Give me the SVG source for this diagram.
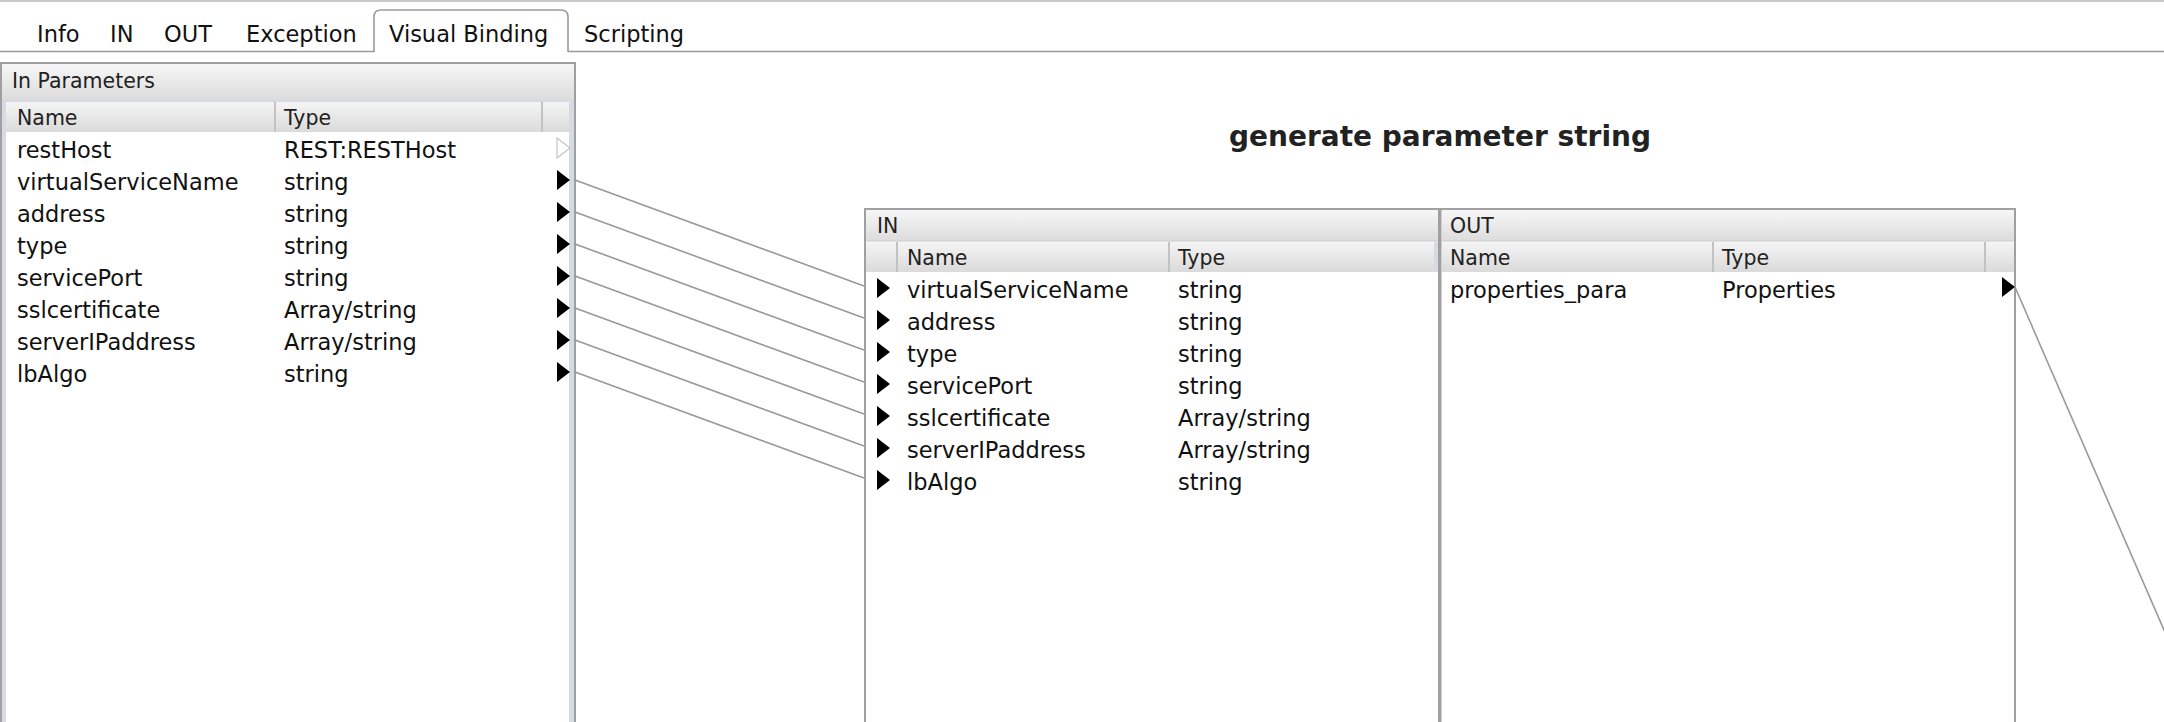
<svg xmlns="http://www.w3.org/2000/svg" width="2164" height="722" viewBox="0 0 2164 722">
<defs>
<linearGradient id="titleGrad" x1="0" y1="0" x2="0" y2="1">
<stop offset="0" stop-color="#f7f7f7"/>
<stop offset="1" stop-color="#dcdcdc"/>
</linearGradient>
<linearGradient id="headGrad" x1="0" y1="0" x2="0" y2="1">
<stop offset="0" stop-color="#f5f5f5"/>
<stop offset="1" stop-color="#dadada"/>
</linearGradient>
<path id="arr" d="M0,-10 L13,0 L0,10 Z"/>
</defs>
<style>
.tab{font-family:"DejaVu Sans",sans-serif;font-size:22.5px;fill:#111}
.hdr{font-family:"DejaVu Sans",sans-serif;font-size:20.5px;fill:#222}
.cell{font-family:"DejaVu Sans",sans-serif;font-size:22.5px;fill:#111}
.title{font-family:"DejaVu Sans",sans-serif;font-size:28px;font-weight:bold;fill:#222}
.border{fill:#fff;stroke:#a0a0a0;stroke-width:2}
.div{stroke:#c2c2c2;stroke-width:2}
.conn{stroke:#999;stroke-width:1.6;fill:none}
.arrow{fill:#000}
.hollow{fill:#fff;stroke:#c4c4c4;stroke-width:1.2}
</style>
<rect x="0" y="0" width="2164" height="722" fill="#fff"/>
<line x1="0" y1="1" x2="2164" y2="1" stroke="#c8c8c8" stroke-width="2"/>

<g id="tabs">
<line x1="0" y1="51.5" x2="374" y2="51.5" stroke="#9a9a9a" stroke-width="1.6"/>
<line x1="568" y1="51.5" x2="2164" y2="51.5" stroke="#9a9a9a" stroke-width="1.6"/>
<path d="M374,52 L374,17 Q374,10 381,10 L561,10 Q568,10 568,17 L568,52" fill="#fff" stroke="#9a9a9a" stroke-width="1.6"/>
<text class="tab" x="37" y="42">Info</text>
<text class="tab" x="110" y="42">IN</text>
<text class="tab" x="164" y="42">OUT</text>
<text class="tab" x="246" y="42">Exception</text>
<text class="tab" x="389" y="42">Visual Binding</text>
<text class="tab" x="584" y="42">Scripting</text>
</g>

<g id="in-parameters">
<rect class="border" x="1" y="63" width="574" height="700"/>
<rect x="2" y="64" width="572" height="36" fill="url(#titleGrad)"/>
<rect x="2" y="100" width="572" height="660" fill="#d6dae2"/>
<rect x="6" y="102" width="563" height="660" fill="#fff"/>
<rect x="6" y="102" width="563" height="30" fill="url(#headGrad)"/>
<line class="div" x1="275" y1="102" x2="275" y2="132"/>
<line class="div" x1="542" y1="102" x2="542" y2="132"/>
<text class="hdr" x="12" y="88">In Parameters</text>
<text class="hdr" x="17" y="125">Name</text>
<text class="hdr" x="284" y="125">Type</text>
<text class="cell" x="17" y="158">restHost</text><text class="cell" x="284" y="158">REST:RESTHost</text>
<text class="cell" x="17" y="190">virtualServiceName</text><text class="cell" x="284" y="190">string</text>
<text class="cell" x="17" y="222">address</text><text class="cell" x="284" y="222">string</text>
<text class="cell" x="17" y="254">type</text><text class="cell" x="284" y="254">string</text>
<text class="cell" x="17" y="286">servicePort</text><text class="cell" x="284" y="286">string</text>
<text class="cell" x="17" y="318">sslcertificate</text><text class="cell" x="284" y="318">Array/string</text>
<text class="cell" x="17" y="350">serverIPaddress</text><text class="cell" x="284" y="350">Array/string</text>
<text class="cell" x="17" y="382">lbAlgo</text><text class="cell" x="284" y="382">string</text>
<use href="#arr" class="hollow" x="557" y="148"/>
<use href="#arr" class="arrow" x="557" y="180"/>
<use href="#arr" class="arrow" x="557" y="212"/>
<use href="#arr" class="arrow" x="557" y="244"/>
<use href="#arr" class="arrow" x="557" y="276"/>
<use href="#arr" class="arrow" x="557" y="308"/>
<use href="#arr" class="arrow" x="557" y="340"/>
<use href="#arr" class="arrow" x="557" y="372"/>
</g>

<g id="title">
<text class="title" x="1440" y="146" text-anchor="middle">generate parameter string</text>
</g>

<g id="in-panel">
<rect class="border" x="865" y="209" width="574" height="600"/>
<rect x="866" y="210" width="572" height="31" fill="url(#titleGrad)"/>
<line x1="866" y1="241" x2="1438" y2="241" stroke="#c8c8c8" stroke-width="1"/>
<rect x="866" y="242" width="572" height="30" fill="url(#headGrad)"/>
<line class="div" x1="897" y1="242" x2="897" y2="272"/>
<line class="div" x1="1169" y1="242" x2="1169" y2="272"/>
<rect x="1434" y="242" width="4" height="30" fill="#d6dae2"/>
<text class="hdr" x="877" y="233">IN</text>
<text class="hdr" x="907" y="265">Name</text>
<text class="hdr" x="1178" y="265">Type</text>
<text class="cell" x="907" y="298">virtualServiceName</text><text class="cell" x="1178" y="298">string</text>
<text class="cell" x="907" y="330">address</text><text class="cell" x="1178" y="330">string</text>
<text class="cell" x="907" y="362">type</text><text class="cell" x="1178" y="362">string</text>
<text class="cell" x="907" y="394">servicePort</text><text class="cell" x="1178" y="394">string</text>
<text class="cell" x="907" y="426">sslcertificate</text><text class="cell" x="1178" y="426">Array/string</text>
<text class="cell" x="907" y="458">serverIPaddress</text><text class="cell" x="1178" y="458">Array/string</text>
<text class="cell" x="907" y="490">lbAlgo</text><text class="cell" x="1178" y="490">string</text>
<use href="#arr" class="arrow" x="877" y="288"/>
<use href="#arr" class="arrow" x="877" y="320"/>
<use href="#arr" class="arrow" x="877" y="352"/>
<use href="#arr" class="arrow" x="877" y="384"/>
<use href="#arr" class="arrow" x="877" y="416"/>
<use href="#arr" class="arrow" x="877" y="448"/>
<use href="#arr" class="arrow" x="877" y="480"/>
</g>

<g id="out-panel">
<rect class="border" x="1440.5" y="209" width="574.5" height="600"/>
<rect x="1442" y="210" width="572" height="31" fill="url(#titleGrad)"/>
<line x1="1442" y1="241" x2="2014" y2="241" stroke="#c8c8c8" stroke-width="1"/>
<rect x="1442" y="242" width="572" height="30" fill="url(#headGrad)"/>
<line class="div" x1="1713" y1="242" x2="1713" y2="272"/>
<line class="div" x1="1985" y1="242" x2="1985" y2="272"/>
<text class="hdr" x="1450" y="233">OUT</text>
<text class="hdr" x="1450" y="265">Name</text>
<text class="hdr" x="1722" y="265">Type</text>
<text class="cell" x="1450" y="298">properties_para</text><text class="cell" x="1722" y="298">Properties</text>
<use href="#arr" class="arrow" x="2002" y="287"/>
</g>

<g id="connectors">
<line class="conn" x1="575" y1="180" x2="864" y2="286"/>
<line class="conn" x1="575" y1="212" x2="864" y2="318"/>
<line class="conn" x1="575" y1="244" x2="864" y2="350"/>
<line class="conn" x1="575" y1="276" x2="864" y2="382"/>
<line class="conn" x1="575" y1="308" x2="864" y2="414"/>
<line class="conn" x1="575" y1="340" x2="864" y2="446"/>
<line class="conn" x1="575" y1="372" x2="864" y2="478"/>
<line class="conn" x1="2015" y1="287" x2="2200" y2="713"/>
</g>
</svg>
